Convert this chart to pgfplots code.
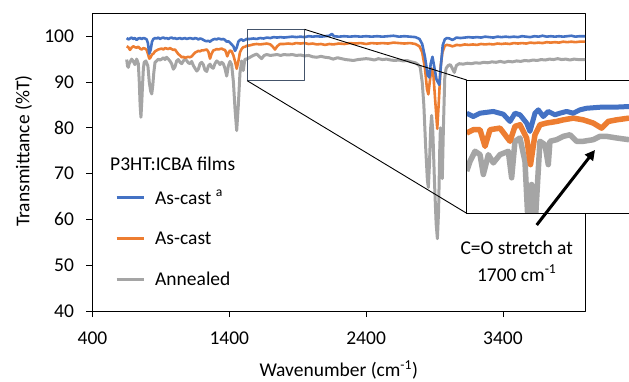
\documentclass[border=0pt]{standalone}
\usepackage{fontspec}
\setmainfont{Carlito}
\usepackage{pgfplots}
\pgfplotsset{compat=1.18}
\usetikzlibrary{arrows.meta}

\definecolor{xlblue}{HTML}{4472C4}
\definecolor{xlorange}{HTML}{ED7D31}
\definecolor{xlgray}{HTML}{A5A5A5}
\definecolor{zoombox}{HTML}{44546A}

\begin{document}
\begin{tikzpicture}[font=\fontsize{19.5}{23}\selectfont]

% ---------------- full spectrum ----------------
\begin{axis}[
  name=main,
  scale only axis,
  width=492.5pt, height=297.7pt,
  at={(92.5pt,70pt)}, anchor=south west,
  xmin=400, xmax=4000, ymin=40, ymax=105,
  xtick={400,1400,2400,3400},
  ytick={40,50,60,70,80,90,100},
  /pgf/number format/assume math mode=true,
  /pgf/number format/1000 sep={},
  tick pos=left,
  tick align=outside,
  major tick length=6pt,
  tick style={black, line width=0.8pt},
  axis line style={black, line width=0.9pt},
  xticklabel style={yshift=-11pt},
  yticklabel style={xshift=-9pt},
  xlabel={Wavenumber (cm\textsuperscript{-1})},
  ylabel={Transmittance (\%T)},
  every axis x label/.style={at={(axis description cs:0.5,-0.198)}, anchor=center},
  every axis y label/.style={at={(axis description cs:-0.1401,0.537)}, anchor=center, rotate=90},
  reverse legend,
  legend cell align=left,
  legend image code/.code={\draw[#1, line width=3pt] (0pt,0pt) -- (27pt,0pt);},
  legend style={draw=none, fill=none, at={(axis description cs:0.0396,0.421)}, anchor=north west,
    row sep=22pt, /tikz/every odd column/.append style={column sep=8pt}},
  line join=round,
]
\addplot[xlgray, line width=3pt] coordinates {
(650,94.9)(656,93.5)(662,93.2)(668,94.0)(674,94.3)(686,95.0)(698,94.5)(710,93.8)(723,95.0)(735,94.0)(742,90.0)(748,85.0)(754,82.3)(760,85.5)(766,89.5)(772,93.0)(778,94.3)(790,94.6)(805,93.5)(815,90.0)(825,88.0)(833,87.4)(840,89.0)(848,92.0)(857,94.3)(869,94.6)(881,95.0)(893,94.8)(906,95.0)(918,95.3)(930,94.9)(942,95.4)(954,95.0)(966,94.6)(978,94.0)(991,92.8)(1003,93.3)(1015,94.6)(1027,94.9)(1040,94.3)(1052,94.0)(1064,94.6)(1076,95.0)(1088,94.7)(1100,94.2)(1113,94.0)(1125,94.5)(1137,93.6)(1149,93.0)(1162,92.4)(1174,92.8)(1186,94.0)(1198,94.3)(1210,93.8)(1222,92.6)(1235,92.3)(1247,93.5)(1259,93.9)(1271,93.2)(1283,93.0)(1295,94.0)(1308,94.6)(1320,94.3)(1332,93.8)(1344,94.3)(1356,94.0)(1368,93.0)(1381,91.3)(1393,93.5)(1405,94.5)(1417,93.8)(1430,90.0)(1442,84.0)(1454,79.4)(1466,85.0)(1478,92.0)(1490,94.6)(1497,93.0)(1502,92.5)(1509,94.0)(1515,95.0)(1527,95.0)(1551,95.4)(1575,95.8)(1600,96.1)(1618,95.6)(1636,95.1)(1655,95.8)(1673,96.0)(1700,95.8)(1725,95.9)(1750,96.0)(1775,95.8)(1800,96.0)(1830,95.9)(1860,96.0)(1890,95.8)(1920,95.9)(1950,95.7)(1980,95.8)(2010,95.5)(2040,95.4)(2070,95.6)(2100,95.4)(2130,95.3)(2160,95.0)(2190,95.3)(2220,95.1)(2250,94.9)(2280,94.8)(2306,94.7)(2340,94.9)(2370,95.0)(2400,95.1)(2430,95.0)(2460,94.8)(2490,95.1)(2520,94.9)(2550,95.0)(2580,94.8)(2610,94.7)(2640,94.8)(2670,94.6)(2700,94.7)(2730,94.4)(2760,94.2)(2780,93.8)(2795,93.3)(2810,90.0)(2822,85.0)(2835,76.0)(2848,68.5)(2855,67.0)(2863,72.0)(2872,80.0)(2879,82.7)(2888,79.0)(2900,68.0)(2912,59.0)(2921,55.8)(2930,62.0)(2938,75.0)(2943,80.0)(2950,74.0)(2957,68.9)(2965,80.0)(2975,91.0)(2985,93.0)(3000,93.6)(3015,93.8)(3030,93.0)(3045,92.1)(3060,93.6)(3080,94.0)(3110,93.9)(3140,94.1)(3170,94.0)(3200,94.2)(3230,94.1)(3260,94.3)(3290,94.2)(3320,94.4)(3350,94.3)(3380,94.5)(3410,94.3)(3440,94.5)(3470,94.4)(3500,94.6)(3530,94.5)(3560,94.7)(3590,94.6)(3620,94.8)(3650,94.7)(3680,94.9)(3710,94.8)(3740,95.0)(3770,94.9)(3800,95.1)(3830,94.9)(3860,95.0)(3890,94.8)(3920,95.0)(3950,94.9)(4000,94.9)
};
\addlegendentry{Annealed}
\addplot[xlorange, line width=2.6pt] coordinates {
(650,97.8)(662,97.6)(674,97.0)(686,97.5)(698,97.8)(710,97.6)(723,97.5)(735,97.7)(747,97.3)(760,97.1)(772,97.4)(784,97.3)(796,97.0)(805,96.2)(815,95.1)(825,95.4)(835,96.0)(845,96.2)(857,96.7)(869,96.9)(881,97.1)(893,97.2)(906,97.3)(918,97.1)(930,97.4)(942,97.3)(954,97.2)(966,97.4)(978,97.2)(991,97.0)(1003,97.1)(1015,96.6)(1027,96.1)(1040,95.8)(1052,95.4)(1064,95.5)(1076,95.3)(1088,95.4)(1100,95.5)(1113,95.4)(1125,95.6)(1137,96.0)(1149,96.4)(1162,96.6)(1174,96.8)(1186,96.7)(1198,96.9)(1210,96.9)(1222,97.0)(1235,97.1)(1247,96.6)(1259,95.1)(1271,96.2)(1283,96.9)(1295,97.0)(1308,97.2)(1320,97.1)(1332,97.2)(1344,97.3)(1356,97.1)(1368,97.0)(1376,96.5)(1385,95.6)(1395,96.4)(1405,96.9)(1417,96.7)(1430,95.8)(1442,94.5)(1454,92.9)(1466,94.5)(1478,96.5)(1490,97.2)(1502,97.6)(1515,97.7)(1527,97.9)(1551,98.0)(1575,98.2)(1600,98.3)(1625,98.2)(1650,98.3)(1675,98.4)(1700,98.2)(1715,97.8)(1734,97.1)(1750,97.8)(1770,98.3)(1800,98.3)(1830,98.4)(1860,98.3)(1890,98.5)(1920,98.4)(1950,98.5)(1980,98.3)(2010,98.4)(2040,98.2)(2070,98.3)(2100,98.1)(2130,98.3)(2160,98.2)(2200,98.4)(2240,98.3)(2280,98.5)(2320,98.4)(2360,98.5)(2400,98.3)(2440,98.5)(2480,98.4)(2520,98.5)(2560,98.4)(2600,98.6)(2640,98.5)(2680,98.4)(2720,98.5)(2760,98.3)(2790,97.8)(2810,96.5)(2830,93.0)(2845,88.5)(2855,87.3)(2865,90.0)(2878,93.0)(2892,91.5)(2905,86.0)(2920,79.8)(2932,86.0)(2945,93.5)(2958,96.5)(2975,97.9)(2990,98.1)(3010,98.0)(3030,97.8)(3045,97.9)(3060,98.1)(3090,98.0)(3120,98.2)(3150,98.1)(3180,98.2)(3210,98.1)(3240,98.3)(3270,98.2)(3300,98.3)(3330,98.2)(3360,98.4)(3390,98.3)(3420,98.4)(3450,98.3)(3480,98.5)(3510,98.4)(3540,98.5)(3570,98.4)(3600,98.6)(3630,98.5)(3660,98.6)(3690,98.5)(3720,98.7)(3750,98.6)(3780,98.7)(3810,98.6)(3840,98.8)(3870,98.7)(3900,98.8)(3930,98.7)(3960,98.8)(4000,98.8)
};
\addlegendentry{As-cast}
\addplot[xlblue, line width=2.6pt] coordinates {
(650,99.6)(662,99.3)(674,99.5)(686,99.7)(698,99.4)(710,99.6)(723,99.2)(735,99.5)(747,99.6)(760,99.4)(772,99.6)(784,99.5)(796,99.3)(805,98.5)(815,96.2)(825,97.0)(835,98.8)(845,99.4)(857,99.6)(869,99.5)(881,99.7)(893,99.4)(906,99.6)(918,99.7)(930,99.5)(942,99.6)(954,99.4)(966,99.6)(978,99.7)(990,99.5)(1003,99.6)(1015,99.4)(1027,99.5)(1040,99.6)(1052,99.4)(1064,99.5)(1076,99.6)(1088,99.4)(1100,99.5)(1113,99.6)(1125,99.5)(1137,99.4)(1149,99.6)(1162,99.5)(1174,99.3)(1186,99.5)(1198,99.4)(1210,99.2)(1222,99.0)(1235,98.9)(1247,99.0)(1259,98.8)(1271,99.1)(1283,99.3)(1295,99.4)(1308,99.3)(1320,99.5)(1332,99.4)(1344,99.3)(1356,99.4)(1368,99.2)(1381,98.8)(1393,98.9)(1405,98.6)(1417,98.2)(1430,97.8)(1442,96.8)(1454,97.5)(1466,98.8)(1478,99.2)(1490,99.3)(1502,99.0)(1515,99.2)(1527,99.4)(1551,99.4)(1575,99.5)(1600,99.4)(1625,99.6)(1650,99.5)(1675,99.7)(1700,99.6)(1725,99.8)(1750,99.7)(1775,99.8)(1800,99.7)(1830,99.8)(1860,99.9)(1890,99.8)(1920,99.9)(1950,99.8)(1980,100.0)(2010,99.9)(2040,100.0)(2070,99.9)(2100,100.0)(2130,100.1)(2150,100.5)(2165,100.0)(2200,99.9)(2240,100.0)(2280,99.9)(2320,100.0)(2360,99.9)(2400,100.0)(2440,99.9)(2480,100.0)(2520,99.9)(2560,100.0)(2600,100.1)(2640,99.9)(2680,100.0)(2720,99.9)(2760,99.8)(2790,99.4)(2810,98.3)(2830,95.5)(2850,91.5)(2862,91.0)(2872,94.0)(2885,95.5)(2900,93.0)(2915,90.5)(2935,89.4)(2948,94.0)(2960,98.0)(2975,99.3)(2990,99.6)(3010,99.5)(3030,99.2)(3045,99.4)(3060,99.7)(3090,99.6)(3120,99.7)(3150,99.8)(3180,99.7)(3210,99.8)(3240,99.7)(3270,99.9)(3300,99.8)(3330,99.7)(3360,99.9)(3390,99.8)(3420,99.9)(3450,99.8)(3480,99.9)(3510,99.8)(3540,100.0)(3570,99.9)(3600,99.8)(3630,100.0)(3660,99.9)(3690,100.1)(3720,99.9)(3750,100.0)(3780,99.9)(3810,100.0)(3840,99.9)(3870,100.0)(3900,100.1)(3930,99.9)(3960,100.0)(4000,100.0)
};
\addlegendentry{As-cast \textsuperscript{a}}

% zoomed window on the full spectrum
\draw[zoombox, line width=1pt] (axis cs:1530,90.3) rectangle (axis cs:1950,101.5);
\coordinate (boxTR) at (axis cs:1950,101.5);
\coordinate (boxBL) at (axis cs:1530,90.3);
\node[anchor=base west, inner sep=0pt] at (axis description cs:0.0355,0.4736) {P3HT:ICBA films};
\end{axis}

\draw[black, line width=0.9pt] (boxTR) -- (466.7pt,301pt);
\draw[black, line width=0.9pt] (boxBL) -- (466.7pt,167.7pt);

% ---------------- enlarged carbonyl region ----------------
\begin{axis}[
  name=inset,
  scale only axis,
  width=162.3pt, height=133.3pt,
  at={(466.7pt,167.7pt)}, anchor=south west,
  xmin=1220, xmax=1805, ymin=92.5, ymax=101.7,
  ticks=none,
  axis line style={draw=none},
  axis background/.style={fill=white},
  line join=round,
]
\addplot[xlgray, line width=5.5pt] coordinates {
(1220,95.41)(1232,96.09)(1250,96.78)(1268,96.55)(1280,95.18)(1298,96.55)(1316,95.98)(1340,96.55)(1370,96.78)(1382,94.95)(1394,97.47)(1412,97.70)(1430,96.09)(1442,91.5)(1454,94.49)(1466,91.5)(1484,97.47)(1502,97.24)(1514,95.86)(1520,97.47)(1544,97.58)(1568,97.81)(1592,97.92)(1616,97.47)(1640,97.47)(1676,97.58)(1700,97.81)(1724,97.81)(1760,97.70)(1805,97.58)
};
\addplot[xlorange, line width=5.5pt] coordinates {
(1220,98.04)(1244,98.27)(1268,98.27)(1286,97.12)(1304,98.27)(1340,98.38)(1376,97.47)(1394,98.50)(1412,98.61)(1436,97.70)(1450,95.86)(1466,97.92)(1484,98.61)(1508,98.73)(1544,98.84)(1568,98.95)(1604,99.07)(1640,98.95)(1676,98.73)(1706,98.38)(1730,98.84)(1760,98.95)(1805,99.07)
};
\addplot[xlblue, line width=5pt] coordinates {
(1220,99.41)(1244,99.18)(1268,99.41)(1316,99.53)(1352,99.34)(1376,98.84)(1394,99.41)(1412,99.30)(1436,98.73)(1448,98.15)(1466,99.41)(1478,99.64)(1496,99.18)(1514,99.53)(1538,99.30)(1556,99.41)(1580,99.53)(1604,99.41)(1628,99.64)(1652,99.75)(1700,99.82)(1748,99.82)(1805,99.87)
};
\end{axis}
\draw[black, line width=1pt] (inset.north east) -- (inset.north west) -- (inset.south west) -- (inset.south east);

% carbonyl annotation
\node[align=center] at (516.7pt,133pt) {C=O stretch at};
\node at (516.7pt,108pt) {1700 cm\textsuperscript{-1}};
\draw[black, line width=3pt, -{Triangle[length=10pt,width=10pt]}] (536.7pt,156pt) -- (595pt,231pt);

\pgfresetboundingbox
\useasboundingbox (0pt,0pt) rectangle (629pt,381pt);
\end{tikzpicture}
\end{document}
